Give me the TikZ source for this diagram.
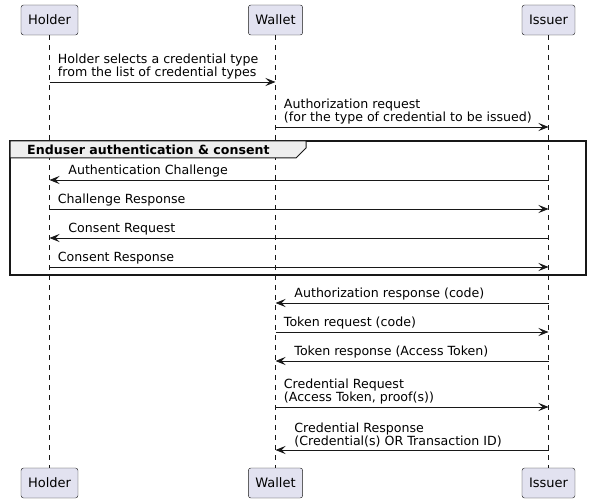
\documentclass[tikz,border=0pt]{standalone}
\usepackage{fontspec}
\setmainfont{DejaVu Sans}
\usetikzlibrary{positioning, arrows.meta}
\definecolor{partfill}{HTML}{E2E2F0}
\definecolor{linecol}{HTML}{181818}
\definecolor{tabfill}{HTML}{EEEEEE}

\begin{document}
\begin{tikzpicture}[x=1pt, y=-1pt,
                >={Stealth[length=10pt, width=8pt, inset=4pt]},
                part/.style={draw=linecol, rectangle, rounded corners=2.5pt, fill=partfill, minimum height=30pt, inner xsep=7pt, font=\fontsize{13}{15}\selectfont},
                lifeline/.style={draw=linecol, line width=0.5pt, dash pattern=on 5pt off 5pt},
                msg/.style={->, draw=linecol, line width=0.9pt},
                lblr/.style={pos=0, anchor=south west, inner sep=0pt, xshift=8pt, yshift=2pt, align=left, font=\fontsize{12.6}{13.5}\selectfont},
                lbll/.style={pos=1, anchor=south west, inner sep=0pt, xshift=18.5pt, yshift=2pt, align=left, font=\fontsize{12.6}{13.5}\selectfont}
            ]
            \useasboundingbox (0,0) rectangle (591,502);

            % Participants (top and bottom)
            \node[part] (holder) at (49.5, 20) {Holder};
            \node[part] (wallet) at (275.5, 20) {Wallet};
            \node[part] (issuer) at (548.5, 20) {Issuer};
            \node[part] (holderb) at (49.5, 483) {Holder};
            \node[part] (walletb) at (275.5, 483) {Wallet};
            \node[part] (issuerb) at (548.5, 483) {Issuer};

            % Lifelines
            \draw[lifeline] (holder) -- (holderb);
            \draw[lifeline] (wallet) -- (walletb);
            \draw[lifeline] (issuer) -- (issuerb);

            % Group frame
            \draw[linecol, line width=1.5pt] (10,141) rectangle (586,275);
            \draw[linecol, line width=1pt, fill=tabfill] (10,141) -- (306,141) -- (306,148) -- (296,158) -- (10,158) -- cycle;
            \node[anchor=west, inner sep=0pt, font=\fontsize{12.6}{14}\selectfont\bfseries] (grouplbl) at (27,150) {Enduser authentication \& consent};

            % Message anchors
            \coordinate (h1) at (holder |- 0,82);  \coordinate (w1) at (wallet |- 0,82);
            \coordinate (w2) at (wallet |- 0,127); \coordinate (i2) at (issuer |- 0,127);
            \coordinate (i3) at (issuer |- 0,180); \coordinate (h3) at (holder |- 0,180);
            \coordinate (h4) at (holder |- 0,209); \coordinate (i4) at (issuer |- 0,209);
            \coordinate (i5) at (issuer |- 0,238); \coordinate (h5) at (holder |- 0,238);
            \coordinate (h6) at (holder |- 0,267); \coordinate (i6) at (issuer |- 0,267);
            \coordinate (i7) at (issuer |- 0,303); \coordinate (w7) at (wallet |- 0,303);
            \coordinate (w8) at (wallet |- 0,332); \coordinate (i8) at (issuer |- 0,332);
            \coordinate (i9) at (issuer |- 0,361); \coordinate (w9) at (wallet |- 0,361);
            \coordinate (w10) at (wallet |- 0,407); \coordinate (i10) at (issuer |- 0,407);
            \coordinate (i11) at (issuer |- 0,450); \coordinate (w11) at (wallet |- 0,450);

            % Messages
            \draw[msg] (h1) -- node[lblr] {Holder selects a credential type\\from the list of credential types} (w1);
            \draw[msg] (w2) -- node[lblr] {Authorization request\\(for the type of credential to be issued)} (i2);
            \draw[msg] (i3) -- node[lbll] {Authentication Challenge} (h3);
            \draw[msg] (h4) -- node[lblr] {Challenge Response} (i4);
            \draw[msg] (i5) -- node[lbll] {Consent Request} (h5);
            \draw[msg] (h6) -- node[lblr] {Consent Response} (i6);
            \draw[msg] (i7) -- node[lbll] {Authorization response (code)} (w7);
            \draw[msg] (w8) -- node[lblr] {Token request (code)} (i8);
            \draw[msg] (i9) -- node[lbll] {Token response (Access Token)} (w9);
            \draw[msg] (w10) -- node[lblr] {Credential Request\\(Access Token, proof(s))} (i10);
            \draw[msg] (i11) -- node[lbll] {Credential Response\\(Credential(s) OR Transaction ID)} (w11);
\end{tikzpicture}
\end{document}
